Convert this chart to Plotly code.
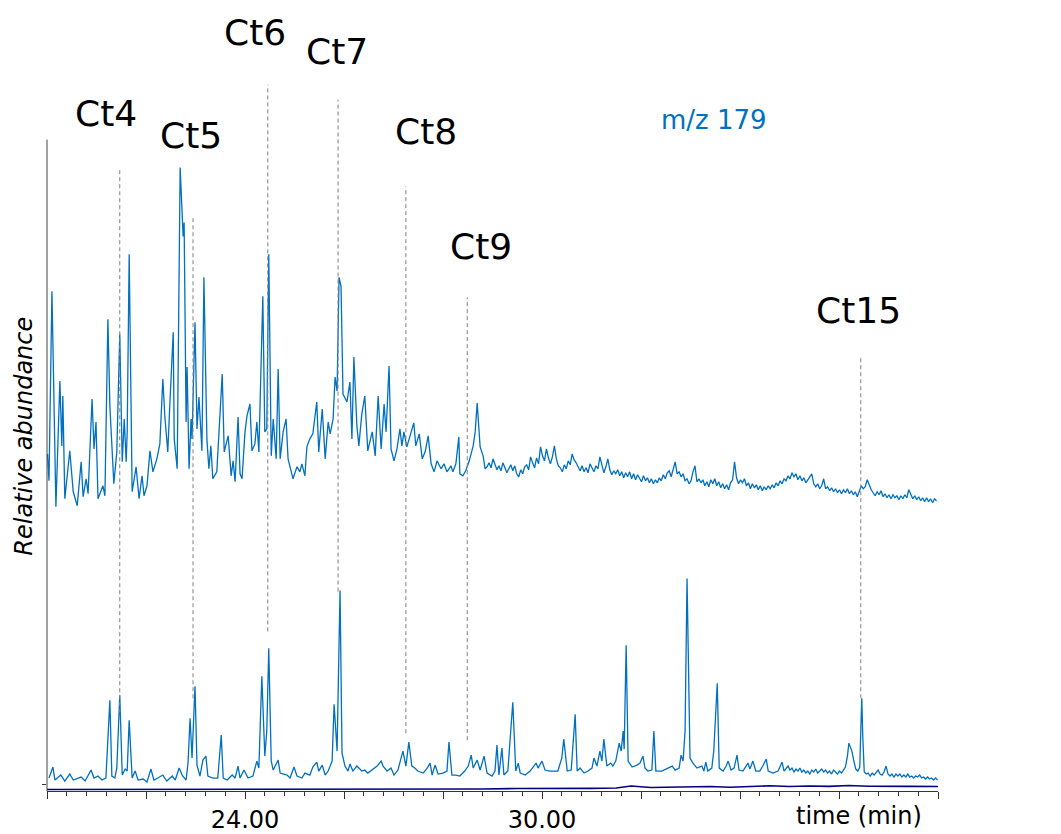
import plotly.graph_objects as go

# Retention time (min) and abundance (arbitrary units) for the BHN extract, m/z 179
BHN_TIME = [20.01, 20.04, 20.10, 20.18, 20.26, 20.30, 20.32, 20.36, 20.46, 20.53, 20.61, 20.69, 20.73, 20.79,
            20.83, 20.91, 20.95, 20.99, 21.03, 21.13, 21.17, 21.23, 21.27, 21.35, 21.41, 21.47, 21.52, 21.56,
            21.60, 21.62, 21.66, 21.72, 21.80, 21.86, 21.92, 21.96, 22.02, 22.08, 22.14, 22.22, 22.28, 22.34,
            22.38, 22.44, 22.48, 22.55, 22.57, 22.63, 22.69, 22.73, 22.75, 22.77, 22.81, 22.83, 22.87, 22.91,
            22.93, 22.99, 23.03, 23.07, 23.13, 23.17, 23.23, 23.27, 23.31, 23.35, 23.43, 23.54, 23.58, 23.66,
            23.72, 23.76, 23.80, 23.86, 23.90, 23.94, 24.00, 24.04, 24.10, 24.14, 24.20, 24.24, 24.28, 24.36,
            24.40, 24.44, 24.48, 24.53, 24.57, 24.63, 24.67, 24.71, 24.77, 24.83, 24.87, 24.97, 25.05, 25.11,
            25.15, 25.21, 25.25, 25.31, 25.37, 25.45, 25.49, 25.56, 25.62, 25.68, 25.72, 25.78, 25.82, 25.86,
            25.90, 25.94, 25.98, 26.06, 26.12, 26.16, 26.20, 26.26, 26.30, 26.36, 26.42, 26.48, 26.57, 26.63,
            26.69, 26.75, 26.81, 26.85, 26.91, 26.95, 27.01, 27.07, 27.13, 27.17, 27.21, 27.27, 27.33, 27.41,
            27.45, 27.52, 27.58, 27.64, 27.70, 27.76, 27.82, 27.88, 27.96, 28.02, 28.08, 28.16, 28.20, 28.26,
            28.32, 28.34, 28.40, 28.46, 28.53, 28.57, 28.61, 28.65, 28.69, 28.75, 28.81, 28.85,
            28.89, 28.93, 28.97, 29.01, 29.05, 29.09, 29.13, 29.17, 29.21, 29.25, 29.29, 29.33, 29.37, 29.41,
            29.45, 29.49, 29.53, 29.57, 29.61, 29.65, 29.69, 29.73, 29.77, 29.81, 29.85, 29.89, 29.93, 29.97,
            30.01, 30.05, 30.09, 30.13, 30.17, 30.21, 30.25, 30.29, 30.33, 30.37, 30.41, 30.45, 30.49, 30.53,
            30.57, 30.61, 30.65, 30.69, 30.73, 30.77, 30.81, 30.85, 30.89, 30.93, 30.97, 31.01, 31.05, 31.09,
            31.13, 31.17, 31.21, 31.25, 31.29, 31.33, 31.37, 31.41, 31.45, 31.49, 31.53, 31.57, 31.61, 31.65,
            31.69, 31.73, 31.77, 31.81, 31.85, 31.89, 31.93, 31.97, 32.01, 32.05, 32.09, 32.13, 32.17, 32.21,
            32.25, 32.29, 32.33, 32.37, 32.41, 32.45, 32.49, 32.53, 32.57, 32.61, 32.65, 32.69, 32.73, 32.77,
            32.81, 32.85, 32.89, 32.93, 32.97, 33.01, 33.05, 33.09, 33.13, 33.17, 33.21, 33.25, 33.29, 33.33,
            33.37, 33.41, 33.45, 33.49, 33.53, 33.57, 33.61, 33.65, 33.69, 33.73, 33.77, 33.81, 33.85, 33.89,
            33.93, 33.97, 34.01, 34.05, 34.09, 34.13, 34.17, 34.21, 34.25, 34.29, 34.33, 34.37, 34.41, 34.45,
            34.49, 34.53, 34.57, 34.61, 34.65, 34.69, 34.73, 34.77, 34.81, 34.85, 34.89, 34.93, 34.97, 35.01,
            35.05, 35.09, 35.13, 35.17, 35.21, 35.25, 35.29, 35.33, 35.37, 35.41, 35.45, 35.49, 35.53, 35.57,
            35.61, 35.65, 35.69, 35.73, 35.77, 35.81, 35.85, 35.89, 35.93, 35.97, 36.01, 36.05, 36.09, 36.13,
            36.17, 36.21, 36.25, 36.29, 36.33, 36.37, 36.41, 36.45, 36.49, 36.53, 36.57, 36.61, 36.65, 36.69,
            36.73, 36.77, 36.81, 36.85, 36.89, 36.93, 36.97, 37.01, 37.05, 37.09, 37.13, 37.17, 37.21, 37.25,
            37.29, 37.33, 37.37, 37.41, 37.45, 37.49, 37.53, 37.57, 37.61, 37.65, 37.69, 37.73, 37.77, 37.81,
            37.85, 37.89, 37.93, 37.97]
BHN_ABUND = [338, 311, 501, 285, 411, 346, 396, 293, 341, 300, 286, 330, 295, 313,
             298, 393, 343, 370, 293, 306, 296, 473, 386, 308, 340, 458, 330, 373,
             330, 360, 538, 300, 325, 293, 316, 296, 306, 341, 320, 333, 348, 413,
             376, 340, 386, 460, 353, 323, 625, 581, 556, 570, 370, 425, 323, 373,
             353, 470, 363, 395, 341, 515, 353, 323, 346, 313, 320, 418, 340, 356,
             316, 331, 310, 375, 318, 313, 360, 376, 388, 341, 348, 370, 340, 496,
             360, 363, 538, 336, 373, 333, 423, 333, 360, 373, 333, 313, 325, 320,
             328, 316, 345, 353, 358, 390, 340, 383, 333, 370, 358, 373, 415, 401,
             515, 506, 398, 390, 410, 353, 435, 366, 346, 378, 396, 341, 360, 336,
             396, 343, 388, 360, 426, 343, 331, 343, 363, 346, 360, 345, 356, 369,
             346, 358, 333, 340, 356, 328, 320, 331, 323, 328, 320, 326, 320, 328,
             355, 318, 316, 321, 331, 338, 346, 360, 389, 345, 336, 323,
             325, 329, 324, 333, 327, 322, 326, 321, 329, 324, 319, 323, 327, 321,
             326, 318, 315, 322, 318, 325, 327, 322, 335, 329, 324, 334, 328, 345,
             336, 331, 343, 334, 328, 335, 346, 333, 326, 324, 320, 327, 323, 331,
             327, 338, 332, 329, 324, 321, 326, 320, 324, 319, 328, 324, 320, 326,
             323, 335, 327, 319, 325, 333, 322, 317, 321, 318, 322, 316, 320, 314,
             319, 315, 320, 313, 318, 312, 317, 314, 310, 316, 311, 314, 309, 313,
             308, 312, 309, 314, 311, 317, 313, 319, 321, 315, 322, 330, 318, 320,
             315, 318, 311, 313, 308, 311, 320, 326, 310, 313, 309, 312, 306, 310,
             305, 312, 308, 313, 306, 310, 304, 308, 303, 307, 302, 309, 312, 330,
             314, 308, 312, 309, 313, 306, 309, 303, 308, 304, 307, 302, 306, 301,
             305, 302, 306, 303, 307, 304, 309, 306, 311, 308, 313, 311, 316, 313,
             319, 315, 318, 312, 316, 311, 314, 309, 312, 315, 318, 308, 305, 308,
             303, 306, 313, 303, 305, 301, 304, 300, 303, 299, 302, 298, 302, 299,
             303, 298, 301, 297, 300, 295, 300, 306, 303, 305, 312, 306, 302, 299,
             296, 300, 297, 301, 295, 298, 294, 297, 293, 297, 294, 296, 292, 296,
             293, 297, 294, 302, 297, 293, 296, 292, 295, 291, 294, 290, 294, 290,
             293, 289, 293, 291]

# Same ion for the BHR extract
BHR_TIME = [20.04, 20.12, 20.16, 20.28, 20.36, 20.46, 20.53, 20.69, 20.77, 20.89, 20.95, 21.03, 21.11, 21.19,
            21.27, 21.31, 21.37, 21.41, 21.47, 21.52, 21.58, 21.62, 21.66, 21.72, 21.78, 21.84, 21.94, 22.02,
            22.10, 22.16, 22.24, 22.34, 22.42, 22.53, 22.59, 22.67, 22.73, 22.81, 22.85, 22.89, 22.93, 22.99,
            23.03, 23.09, 23.15, 23.21, 23.25, 23.35, 23.45, 23.52, 23.56, 23.64, 23.74, 23.80, 23.86, 23.90,
            23.98, 24.06, 24.16, 24.24, 24.28, 24.34, 24.40, 24.44, 24.48, 24.53, 24.57, 24.67, 24.71, 24.85,
            24.91, 24.99, 25.05, 25.15, 25.21, 25.31, 25.37, 25.45, 25.49, 25.56, 25.62, 25.68, 25.76, 25.80,
            25.86, 25.92, 25.96, 26.02, 26.08, 26.12, 26.18, 26.26, 26.36, 26.42, 26.48, 26.57, 26.67, 26.75,
            26.79, 26.87, 26.95, 27.01, 27.09, 27.19, 27.25, 27.31, 27.37, 27.43, 27.49, 27.60, 27.68, 27.74,
            27.78, 27.84, 27.90, 28.00, 28.08, 28.12, 28.18, 28.26, 28.34, 28.44, 28.51, 28.57, 28.61, 28.69,
            28.75, 28.83, 28.89, 28.99, 29.05, 29.09, 29.13, 29.19, 29.23, 29.31, 29.41, 29.47, 29.52, 29.56,
            29.66, 29.76, 29.88, 29.92, 30.00, 30.06, 30.16, 30.26, 30.32, 30.40, 30.44, 30.51, 30.59, 30.67,
            30.71, 30.77, 30.85, 30.93, 31.01, 31.05, 31.11, 31.17, 31.21, 31.25, 31.31, 31.39, 31.43, 31.49,
            31.56, 31.60, 31.64, 31.66, 31.70, 31.74, 31.82, 31.92, 31.98, 32.04, 32.08, 32.14, 32.22, 32.26,
            32.30, 32.42, 32.53, 32.63, 32.69, 32.77, 32.81, 32.85, 32.89, 32.93, 32.99, 33.05, 33.13, 33.23,
            33.27, 33.31, 33.35, 33.43, 33.47, 33.54, 33.58, 33.66, 33.72, 33.76, 33.82, 33.88, 33.94, 33.98,
            34.06, 34.16, 34.20, 34.26, 34.32, 34.40, 34.46, 34.53, 34.57, 34.67, 34.77, 34.85, 34.89,
            34.97, 35.01, 35.05, 35.09, 35.13, 35.17, 35.21, 35.25, 35.29, 35.33, 35.37, 35.41, 35.45, 35.49,
            35.53, 35.57, 35.61, 35.65, 35.69, 35.73, 35.77, 35.81, 35.85, 35.89, 35.93, 35.97, 36.01, 36.05,
            36.09, 36.13, 36.17, 36.20, 36.23, 36.26, 36.30, 36.34, 36.38, 36.42, 36.44, 36.46, 36.48, 36.51,
            36.55, 36.59, 36.63, 36.67, 36.71, 36.75, 36.79, 36.83, 36.87, 36.91, 36.95, 36.99, 37.03, 37.07,
            37.11, 37.15, 37.19, 37.23, 37.27, 37.31, 37.35, 37.39, 37.43, 37.47, 37.51, 37.55, 37.59, 37.63,
            37.67, 37.71, 37.75, 37.79, 37.83, 37.87, 37.91, 37.95, 37.99]
BHR_ABUND = [13, 24, 11, 16, 10, 17, 11, 14, 10, 21, 13, 15, 11, 13,
             91, 15, 13, 23, 96, 16, 22, 20, 71, 13, 20, 11, 12, 9,
             22, 11, 13, 16, 10, 15, 11, 23, 16, 11, 29, 73, 33, 105,
             26, 15, 31, 35, 15, 13, 13, 56, 13, 11, 16, 13, 25, 13,
             21, 13, 15, 30, 23, 115, 35, 60, 143, 30, 21, 31, 18, 16,
             13, 24, 15, 13, 18, 16, 24, 29, 20, 26, 16, 20, 30, 87,
             40, 201, 38, 25, 20, 27, 20, 25, 20, 21, 18, 21, 25, 30,
             25, 20, 23, 16, 21, 40, 25, 49, 25, 23, 20, 18, 23, 28,
             16, 26, 17, 18, 20, 49, 16, 16, 15, 20, 25, 36, 23, 31,
             21, 35, 18, 15, 20, 46, 16, 43, 16, 20, 89, 20, 28, 18,
             16, 20, 28, 23, 30, 21, 20, 20, 20, 33, 52, 20, 21, 77,
             20, 23, 18, 20, 23, 33, 25, 40, 30, 52, 25, 28, 25, 30,
             48, 40, 60, 42, 146, 30, 24, 26, 28, 35, 23, 20, 21, 60,
             20, 20, 23, 25, 21, 23, 36, 30, 60, 213, 33, 28, 23, 25,
             20, 29, 20, 23, 40, 108, 23, 20, 25, 30, 21, 23, 36, 21,
             20, 28, 22, 30, 20, 20, 25, 32, 20, 18, 20, 29, 20,
             25, 21, 23, 19, 22, 20, 23, 19, 21, 18, 20, 17, 21, 19,
             22, 18, 20, 22, 19, 21, 18, 20, 17, 21, 19, 17, 20, 18,
             21, 24, 35, 48, 44, 40, 30, 22, 20, 24, 60, 93, 55, 19,
             17, 18, 15, 18, 16, 19, 21, 17, 16, 19, 25, 17, 15, 17,
             14, 17, 15, 17, 14, 16, 14, 17, 14, 15, 13, 15, 14, 16,
             13, 14, 12, 14, 12, 13, 11, 13, 11]

# Blank run, nearly flat along the baseline
BLANK_TIME = [20.0, 21.0, 22.0, 23.0, 24.0, 25.0, 26.0, 27.0, 28.0, 28.8, 29.5, 30.0, 30.5, 31.0, 31.5,
              31.8, 32.2, 32.6, 33.0, 33.4, 33.8, 34.2, 34.6, 35.0, 35.4, 35.8, 36.2, 36.6, 37.0, 37.4, 38.0]
BLANK_ABUND = [1.5, 1.5, 1.8, 1.6, 2.0, 1.8, 2.0, 1.8, 2.2, 2.0, 2.5, 2.3, 2.8, 2.6, 3.0,
               5.0, 3.5, 3.8, 4.2, 4.5, 3.8, 4.8, 5.2, 4.5, 5.0, 4.6, 5.5, 4.8, 5.0, 4.6, 4.5]

# Compound markers: label, retention time, dashed guide extent, label anchor
CT_LABELS = ["Ct4", "Ct5", "Ct6", "Ct7", "Ct8", "Ct9", "Ct15"]
CT_TIMES = [21.47, 22.95, 24.46, 25.88, 27.25, 28.49, 36.44]
CT_GUIDE_TOP = [625, 576, 708, 693, 606, 495, 436]
CT_GUIDE_BOTTOM = [78, 93, 160, 200, 58, 51, 93]
CT_LABEL_TIME = [21.19, 22.91, 24.20, 25.86, 27.66, 28.77, 36.40]
CT_LABEL_LEVEL = [679, 657, 760, 741, 661, 546, 482]

TICK_VALUES = [20, 22, 24, 26, 28, 30, 32, 34, 36, 38]
TICK_TEXT = ["", "", "24.00", "", "", "30.00", "", "", "", ""]

BLUE = "#0070C0"
NAVY = "#000080"
FONT = "DejaVu Sans"

fig = go.Figure()
fig.add_trace(go.Scatter(x=BLANK_TIME, y=BLANK_ABUND, mode="lines",
                         line=dict(color=NAVY, width=1.6), hoverinfo="skip", showlegend=False))
fig.add_trace(go.Scatter(x=BHR_TIME, y=BHR_ABUND, mode="lines",
                         line=dict(color=BLUE, width=1.3), hoverinfo="skip", showlegend=False))
fig.add_trace(go.Scatter(x=BHN_TIME, y=BHN_ABUND, mode="lines",
                         line=dict(color=BLUE, width=1.3), hoverinfo="skip", showlegend=False))

# dashed retention-time guides
for t, top, bottom in zip(CT_TIMES, CT_GUIDE_TOP, CT_GUIDE_BOTTOM):
    fig.add_shape(type="line", xref="x", yref="y", x0=t, x1=t, y0=bottom, y1=top,
                  line=dict(color="#808080", width=1, dash="4px,3px"), layer="above")

# vertical axis line (shorter than the plotting area)
fig.add_shape(type="line", xref="paper", yref="y", x0=0, x1=0, y0=0, y1=653,
              line=dict(color="#444444", width=1))

for lab, t, lev in zip(CT_LABELS, CT_LABEL_TIME, CT_LABEL_LEVEL):
    fig.add_annotation(x=t, y=lev, xref="x", yref="y", text=lab, showarrow=False,
                       font=dict(family=FONT, size=36, color="black"))

fig.add_annotation(x=33.47, y=673, xref="x", yref="y", text="m/z 179", showarrow=False,
                   font=dict(family=FONT, size=26, color=BLUE))
fig.add_annotation(x=39.33, y=306, xref="x", yref="y", text="BHN", showarrow=False,
                   font=dict(family=FONT, size=36, color=BLUE))
fig.add_annotation(x=39.64, y=52, xref="x", yref="y", text="BHR", showarrow=False,
                   font=dict(family=FONT, size=36, color=BLUE))
fig.add_annotation(x=-0.026, y=0.449, xref="paper", yref="paper", xanchor="center", yanchor="middle",
                   text="<i>Relative abundance</i>", textangle=-90, showarrow=False,
                   font=dict(family=FONT, size=24, color="black"))
fig.add_annotation(x=36.4, y=0, xref="x", yref="paper", yshift=-25, yanchor="middle",
                   text="time (min)", showarrow=False, font=dict(family=FONT, size=24, color="black"))

fig.update_xaxes(range=[20, 38], tickmode="array", tickvals=TICK_VALUES, ticktext=TICK_TEXT,
                 ticks="outside", ticklen=7, tickwidth=1, tickcolor="#333333",
                 minor=dict(ticks="outside", dtick=0.4, tick0=20, ticklen=4, tickwidth=1, tickcolor="#333333"),
                 showline=True, linecolor="#333333", linewidth=1, showgrid=False, zeroline=False,
                 tickfont=dict(family=FONT, size=24, color="black"))
fig.update_yaxes(range=[0, 793], tickmode="array", tickvals=[7], ticks="outside", ticklen=4,
                 tickcolor="#333333", showticklabels=False, showline=False, showgrid=False, zeroline=False)

fig.update_layout(width=1061, height=834, margin=dict(l=47, r=123, t=0, b=41),
                  plot_bgcolor="white", paper_bgcolor="white", showlegend=False)

fig.write_html("out.html")
